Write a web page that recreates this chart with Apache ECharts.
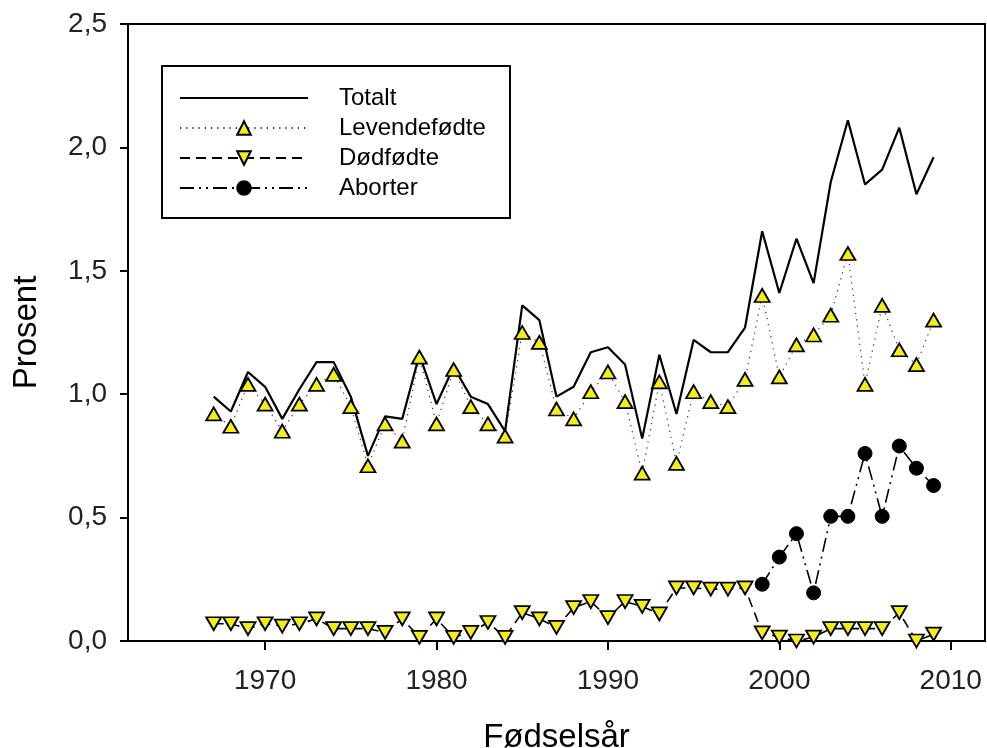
<!DOCTYPE html>
<html>
<head>
<meta charset="utf-8">
<script src="https://cdn.jsdelivr.net/npm/echarts@6/dist/echarts.min.js"></script>
<style>
  html, body { margin: 0; padding: 0; background: #fff; }
  #chart { width: 987px; height: 748px; }
</style>
</head>
<body>
<div id="chart"></div>
<script>
// years 1967-2009
const years = [1967, 1968, 1969, 1970, 1971, 1972, 1973, 1974, 1975, 1976, 1977, 1978, 1979, 1980,
  1981, 1982, 1983, 1984, 1985, 1986, 1987, 1988, 1989, 1990, 1991, 1992, 1993, 1994, 1995, 1996,
  1997, 1998, 1999, 2000, 2001, 2002, 2003, 2004, 2005, 2006, 2007, 2008, 2009]

const totalt = [0.99, 0.93, 1.09, 1.03, 0.90, 1.02, 1.13, 1.13, 0.99, 0.75, 0.91, 0.90, 1.16, 0.96,
  1.11, 0.99, 0.96, 0.85, 1.36, 1.30, 0.99, 1.03, 1.17, 1.19, 1.12, 0.82, 1.16, 0.92, 1.22, 1.17,
  1.17, 1.27, 1.66, 1.41, 1.63, 1.45, 1.86, 2.11, 1.85, 1.91, 2.08, 1.81, 1.96]

const levendefodte = [0.92, 0.87, 1.04, 0.96, 0.85, 0.96, 1.04, 1.08, 0.95, 0.71, 0.88, 0.81, 1.15, 0.88,
  1.10, 0.95, 0.88, 0.83, 1.25, 1.21, 0.94, 0.90, 1.01, 1.09, 0.97, 0.68, 1.05, 0.72, 1.01, 0.97,
  0.95, 1.06, 1.40, 1.07, 1.20, 1.24, 1.32, 1.57, 1.04, 1.36, 1.18, 1.12, 1.30]

const dodfodte = [0.07, 0.07, 0.05, 0.07, 0.06, 0.07, 0.09, 0.05, 0.05, 0.05, 0.035, 0.09, 0.015, 0.09,
  0.015, 0.035, 0.075, 0.015, 0.115, 0.09, 0.055, 0.135, 0.16, 0.095, 0.16, 0.14, 0.11, 0.215, 0.215, 0.21,
  0.21, 0.215, 0.033, 0.016, 0.0, 0.016, 0.05, 0.05, 0.05, 0.05, 0.115, 0.0, 0.028]

const abortYears = [1999, 2000, 2001, 2002, 2003, 2004, 2005, 2006, 2007, 2008, 2009]
const aborter = [0.23, 0.34, 0.435, 0.195, 0.505, 0.505, 0.76, 0.505, 0.79, 0.70, 0.63]

const xTicks = [1970, 1980, 1990, 2000, 2010]

const font = 'Liberation Sans, Arial, sans-serif'
const yellow = '#f2ee1e'

function pairs(xs, ys) {
  return xs.map((x, i) => [x, ys[i]])
}

const chart = echarts.init(document.getElementById('chart'))

const option = {
  backgroundColor: '#fff',
  animation: false,
  textStyle: { fontFamily: font },
  grid: {
    left: 128,
    right: 2,
    top: 24,
    bottom: 107,
    outerBoundsMode: 'none',
    containLabel: false,
    show: true,
    borderColor: '#000',
    borderWidth: 2,
  },
  graphic: [
    {
      type: 'rect',
      z: 1,
      shape: { x: 162, y: 66, width: 348, height: 152 },
      style: { fill: '#fff', stroke: '#000', lineWidth: 2 },
    },
  ],
  legend: {
    orient: 'vertical',
    left: 179,
    top: 86,
    padding: 0,
    itemWidth: 128,
    itemHeight: 17,
    itemGap: 6,
    textStyle: {
      fontFamily: font,
      fontSize: 24,
      lineHeight: 24,
      color: '#000',
      padding: [0, 0, 0, 26],
    },
    data: [
      { name: 'Totalt', itemStyle: { opacity: 0 } },
      'Levendefødte',
      'Dødfødte',
      'Aborter',
    ],
  },
  xAxis: {
    type: 'value',
    min: 1962,
    max: 2012,
    name: 'Fødselsår',
    nameLocation: 'middle',
    nameGap: 80,
    nameTextStyle: { fontFamily: font, fontSize: 33, color: '#000' },
    axisLine: { lineStyle: { color: '#000', width: 2 } },
    axisTick: { customValues: xTicks, length: 9, lineStyle: { color: '#000', width: 2 } },
    axisLabel: {
      customValues: xTicks,
      formatter: (v) => String(v),
      fontFamily: font,
      fontSize: 28,
      color: '#222',
      margin: 26,
    },
    splitLine: { show: false },
  },
  yAxis: {
    type: 'value',
    min: 0,
    max: 2.5,
    interval: 0.5,
    name: 'Prosent',
    nameLocation: 'middle',
    nameGap: 85,
    nameRotate: 90,
    nameTextStyle: { fontFamily: font, fontSize: 33, color: '#000' },
    axisLine: { show: true, lineStyle: { color: '#000', width: 2 } },
    axisTick: { show: true, length: 8, lineStyle: { color: '#000', width: 2 } },
    axisLabel: {
      formatter: (v) => v.toFixed(1).replace('.', ','),
      fontFamily: font,
      fontSize: 28,
      color: '#222',
      margin: 21,
    },
    splitLine: { show: false },
  },
  series: [
    {
      name: 'Totalt',
      type: 'line',
      data: pairs(years, totalt),
      showSymbol: false,
      symbol: 'none',
      lineStyle: { color: '#000', width: 2.2, type: 'solid' },
      itemStyle: { color: '#000' },
      z: 2,
    },
    {
      name: 'Levendefødte',
      type: 'line',
      data: pairs(years, levendefodte),
      symbol: 'triangle',
      symbolSize: [15, 13],
      lineStyle: { color: '#333', width: 1.2, type: [1.2, 5] },
      itemStyle: { color: yellow, borderColor: '#000', borderWidth: 1.8 },
      z: 3,
    },
    {
      name: 'Dødfødte',
      type: 'line',
      data: pairs(years, dodfodte),
      symbol: 'triangle',
      symbolRotate: 180,
      symbolSize: [15, 13],
      lineStyle: { color: '#000', width: 1.6, type: [10, 6] },
      itemStyle: { color: yellow, borderColor: '#000', borderWidth: 1.8 },
      z: 3,
    },
    {
      name: 'Aborter',
      type: 'line',
      data: pairs(abortYears, aborter),
      symbol: 'circle',
      symbolSize: 14,
      lineStyle: { color: '#000', width: 1.6, type: [14, 5, 2, 5, 2, 5] },
      itemStyle: { color: '#000', borderColor: '#000', borderWidth: 1 },
      z: 3,
    },
  ],
}

chart.setOption(option)
</script>
</body>
</html>
